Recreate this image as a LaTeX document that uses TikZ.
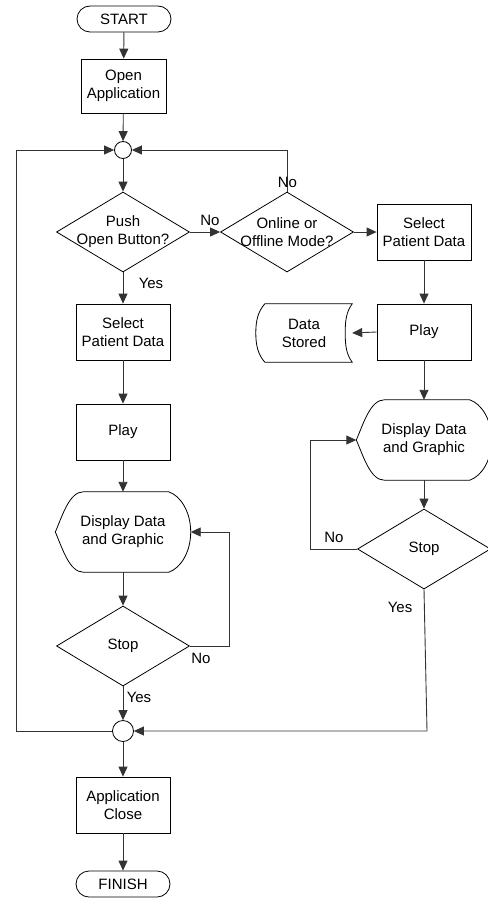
\documentclass[tikz,border=0pt]{standalone}
\usepackage{fontspec}
\setmainfont{Liberation Sans}
\usetikzlibrary{arrows.meta,shapes.geometric,calc}
\newcommand\dispoutline[1]{%
  \draw[outline] (#1.west)
    .. controls ($(#1.west)+(7,-16)$) and ($(#1.north west)+(14,0)$) .. ($(#1.north west)+(28,0)$)
    -- ($(#1.north east)+(-22,0)$)
    .. controls ($(#1.north east)+(-10,4)$) and ($(#1.east)+(0,-20)$) .. (#1.east)
    .. controls ($(#1.east)+(0,20)$) and ($(#1.south east)+(-10,-4)$) .. ($(#1.south east)+(-22,0)$)
    -- ($(#1.south west)+(28,0)$)
    .. controls ($(#1.south west)+(14,0)$) and ($(#1.west)+(7,16)$) .. cycle;}
\begin{document}
\begin{tikzpicture}[x=1pt,y=-1pt,
  font=\fontsize{15}{18}\selectfont,
  base/.style={draw=black,line width=0.8pt,align=center,inner sep=0pt},
  proc/.style={base,rectangle,minimum width=94pt,minimum height=56pt},
  term/.style={base,rectangle,rounded corners=13pt,minimum width=94pt,minimum height=26pt},
  dia/.style={base,diamond,minimum width=133pt,minimum height=80pt},
  junction/.style={draw=black,line width=0.8pt,circle,inner sep=0pt},
  freebox/.style={align=center,inner sep=0pt,minimum width=135pt,minimum height=80pt},
  lbl/.style={inner sep=0pt,align=center},
  flow/.style={draw=black!80,line width=0.9pt,-{Triangle[length=10pt,width=9pt]}},
  outline/.style={draw=black,line width=0.8pt}
]
\useasboundingbox (0,0) rectangle (487,899);

% left column
\node[term] (start) at (124,19) {START};
\node[proc,minimum width=85pt,minimum height=54pt] (open) at (123.5,86) {Open\\Application};
\node[junction,minimum size=17pt] (c1) at (123,150) {};
\node[dia,label={[lbl]center:Push\\Open Button?}] (d1) at (123,232) {};
\node[proc] (sel1) at (123,332) {Select\\Patient Data};
\node[proc] (play1) at (123,432) {Play};
\node[freebox] (disp1) at (123,532) {Display Data\\and Graphic};
\dispoutline{disp1}
\node[dia,label={[lbl]center:Stop}] (stop1) at (123,646) {};
\node[junction,minimum size=21pt] (c2) at (123,731) {};
\node[proc] (close) at (123,805) {Application\\Close};
\node[term] (finish) at (123,884) {FINISH};

% right column
\node[dia,label={[lbl]center:Online or\\Offline Mode?}] (d2) at (287,232) {};
\node[proc] (sel2) at (424,232) {Select\\Patient Data};
\node[proc] (play2) at (424,332) {Play};
\node[lbl,minimum width=96pt,minimum height=58pt] (ds) at (304,333) {Data\\Stored};
\draw[outline] (ds.north east) -- ($(ds.north west)+(9,0)$)
  .. controls ($(ds.north west)+(2,8)$) and ($(ds.west)+(0,-12)$) .. (ds.west)
  .. controls ($(ds.west)+(0,12)$) and ($(ds.south west)+(2,-8)$) .. ($(ds.south west)+(9,0)$)
  -- (ds.south east)
  .. controls ($(ds.south east)+(-6,-8)$) and ($(ds.east)+(-7,12)$) .. ($(ds.east)+(-7,0)$)
  .. controls ($(ds.east)+(-7,-12)$) and ($(ds.north east)+(-6,8)$) .. cycle;
\node[freebox] (disp2) at (424,440) {Display Data\\and Graphic};
\dispoutline{disp2}
\node[dia,label={[lbl]center:Stop}] (stop2) at (424,549) {};

% helper coordinates
\coordinate (n1) at (229,646);
\coordinate (lp) at (16,731);
\coordinate (n2) at (310,549);
\coordinate (n3) at (427,731);

% connectors
\draw[flow] (start) -- (open);
\draw[flow] (open) -- (c1);
\draw[flow] (c1) -- (d1);
\draw[flow] (d1.east) -- (d2.west);
\draw[flow] (d1.south) -- (sel1);
\draw[flow] (sel1) -- (play1);
\draw[flow] (play1) -- (disp1.north);
\draw[flow] (disp1.south) -- (stop1.north);
\draw[flow] (stop1.south) -- (c2);
\draw[flow] (c2) -- (close);
\draw[flow] (close) -- (finish);
\draw[flow] (stop1.east) -- (n1) |- (disp1.east);
\draw[flow] (c2.west) -- (lp) |- (c1.west);
\draw[flow] (d2.north) |- (c1.east);
\draw[flow] (d2.east) -- (sel2.west);
\draw[flow] (sel2) -- (play2);
\draw[flow] (play2.west) -- (ds.east);
\draw[flow] (play2) -- (disp2.north);
\draw[flow] (disp2.south) -- (stop2.north);
\draw[flow] (stop2.west) -- (n2) |- (disp2.west);
\draw[flow] (stop2.south) -- (n3) -- (c2.east);

% labels
\node[lbl] (l1) at (210,220) {No};
\node[lbl] (l2) at (287.5,182) {No};
\node[lbl] (l3) at (151,283) {Yes};
\node[lbl] (l4) at (201,658) {No};
\node[lbl] (l5) at (139,697) {Yes};
\node[lbl] (l6) at (334,537) {No};
\node[lbl] (l7) at (400,607) {Yes};
\end{tikzpicture}
\end{document}
